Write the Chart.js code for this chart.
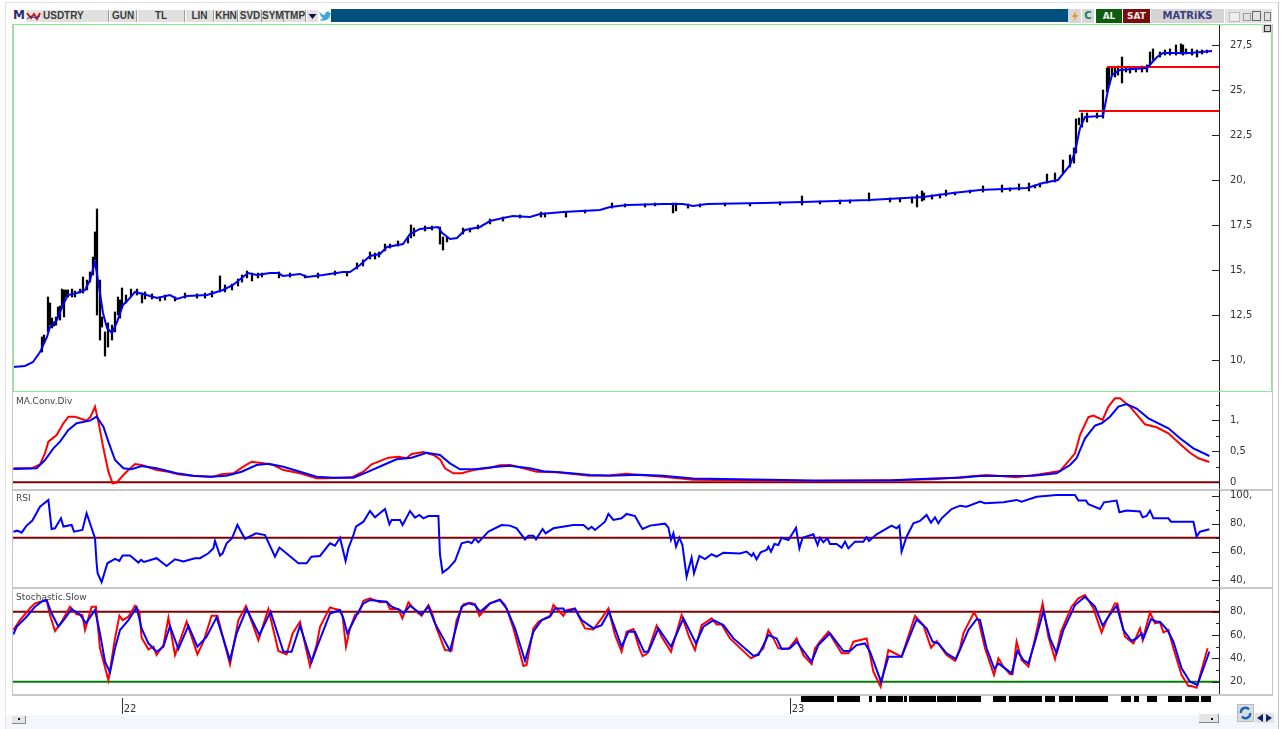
<!DOCTYPE html>
<html>
<head>
<meta charset="utf-8">
<title>USDTRY</title>
<script src="https://cdn.jsdelivr.net/npm/chart.js@4/dist/chart.umd.min.js"></script>
<style>
  html, body { margin: 0; padding: 0; background: #fff; overflow: hidden; }
  #win { position: relative; width: 1283px; height: 729px; background: #fff; font-family: "DejaVu Sans", sans-serif; overflow: hidden; filter: blur(0.35px); }
  #win div, #win canvas, #win svg { position: absolute; }
  .btn { top: 10px; height: 12px; background: #e0e0e0; border-right: 1px solid #999; color: #3a3a3a; font: bold 10px/12px "Liberation Sans Narrow", "Liberation Sans", sans-serif; text-align: center; box-sizing: content-box; }
  .rbtn { top: 9px; height: 14px; font: bold 9px/14px "DejaVu Sans", sans-serif; text-align: center; }
  .name { left: 16px; color: #444; font: 9px/11px "DejaVu Sans", sans-serif; z-index: 5; }
  .sep { left: 12px; width: 1261px; height: 2px; background: #c8c8c8; }
</style>
</head>
<body>
<div id="win">
  <div style="left:5px;top:2px;width:1274px;height:1px;background:#e2e2e2"></div>
  <div style="left:5px;top:2px;width:1px;height:727px;background:#e2e2e2"></div>
  <div style="left:1278px;top:2px;width:1px;height:727px;background:#c4c4c4"></div>
  <div style="left:6px;top:715px;width:1272px;height:14px;background:#f3f6fa"></div>

  <div style="left:11px;top:8px;width:1262px;height:15px;background:#fff"></div>
  <div style="left:331px;top:9px;width:737px;height:13px;background:#00507f"></div>
  <div style="left:13px;top:8px;width:12px;height:14px;color:#2c2c74;font:bold 12px/15px 'DejaVu Sans'">M</div>
  <svg style="left:26px;top:10px" width="15" height="12"><rect width="15" height="12" fill="#e4e4e4"/><path d="M1 3 L5 8 L8 4 L11 9 L14 3" stroke="#d01818" stroke-width="2" fill="none"/><path d="M1 9 L5 6 L9 8 L14 6" stroke="#2c2c9c" fill="none"/></svg>
  <div class="btn" style="left:41px;width:67px;text-align:left;text-indent:2px">USDTRY</div>
  <div class="btn" style="left:110px;width:26px">GUN</div>
  <div class="btn" style="left:138px;width:46px">TL</div>
  <div class="btn" style="left:186px;width:27px">LIN</div>
  <div class="btn" style="left:215px;width:22px">KHN</div>
  <div class="btn" style="left:239px;width:22px">SVD</div>
  <div class="btn" style="left:262px;width:21px">SYM</div>
  <div class="btn" style="left:284px;width:21px">TMP</div>
  <svg style="left:307px;top:10px" width="11" height="12"><rect width="11" height="12" fill="#e0e0e0"/><path d="M1.5 4 L9.5 4 L5.5 9 Z" fill="#12124a"/></svg>
  <svg style="left:318px;top:9px" width="13" height="13"><path d="M1 2 C3 5 5 6 7 6 C7 3 10 1 12 4 L13 4 L12 6 C12 10 7 13 1 11 C3 11 4 10 5 9 C3 8 2 6 1 2 Z" fill="#3fa6dc"/></svg>

  <div style="left:1068px;top:9px;width:13px;height:14px;background:#d8d8d8"></div>
  <svg style="left:1069px;top:9px" width="12" height="14"><path d="M8 1 L3 8 L6 8 L4 13 L9 6 L6 6 Z" fill="#e89018"/></svg>
  <div class="rbtn" style="left:1082px;width:12px;background:#d8d8d8;color:#1a7a6a;font-size:10px">C</div>
  <div class="rbtn" style="left:1096px;width:26px;background:#0e5c0e;color:#e8f0e8">AL</div>
  <div class="rbtn" style="left:1123px;width:27px;background:#7a0c0c;color:#f4e8e8">SAT</div>
  <div class="rbtn" style="left:1151px;width:73px;background:#d4d4d4;color:#3c3c80;font-size:10px">MATRiKS</div>
  <div style="left:1225px;top:9px;width:47px;height:14px;background:#e2e2e2"></div>
  <div style="left:1229px;top:12px;width:9px;height:8px;background:#eee;border:1px solid #bbb"></div>
  <div style="left:1243px;top:13px;width:6px;height:6px;border:1px solid #999"></div>
  <div style="left:1252px;top:11px;width:7px;height:8px;border:1px solid #666"></div>
  <div style="left:1264px;top:12px;width:5px;height:7px;border:1px solid #777"></div>
  <div style="left:1262px;top:24px;width:10px;height:9px;background:#d4d4d4;z-index:6"></div>
  <div style="left:1264px;top:25px;width:5px;height:5px;border:1px solid #333;z-index:6"></div>

  <div style="left:12px;top:24px;width:1px;height:671px;background:#c8c8c8"></div>
  <div style="left:1272px;top:24px;width:1px;height:671px;background:#c8c8c8"></div>
  <div class="sep" style="top:489px"></div>
  <div class="sep" style="top:587px"></div>
  <div class="sep" style="top:694px"></div>

  <canvas id="priceChart" style="left:13px;top:25px"></canvas>
  <canvas id="macdChart" style="left:13px;top:392px"></canvas>
  <canvas id="rsiChart" style="left:13px;top:490px"></canvas>
  <canvas id="stochChart" style="left:13px;top:588px"></canvas>
  <canvas id="dateChart" style="left:13px;top:696px"></canvas>

  <div style="left:13px;top:24px;width:1258px;height:1px;background:#86ee86;z-index:4"></div>
  <div style="left:13px;top:391px;width:1259px;height:1px;background:#86ee86;z-index:4"></div>
  <div style="left:13px;top:24px;width:1px;height:368px;background:#86ee86;z-index:4"></div>
  <div style="left:1271px;top:24px;width:1px;height:368px;background:#86ee86;z-index:4"></div>

  <div class="name" style="top:396px">MA.Conv.Div</div>
  <div class="name" style="top:493px">RSI</div>
  <div class="name" style="top:592px">Stochastic.Slow</div>

  <div style="left:12px;top:716px;width:13px;height:7px;background:#e4e4e4;border-bottom:1px solid #888;border-right:1px solid #888"></div>
  <div style="left:18px;top:718px;width:2px;height:2px;background:#111"></div>
  <div style="left:1199px;top:714px;width:19px;height:8px;background:#e4e4e4;border-bottom:1px solid #888;border-right:1px solid #888"></div>
  <div style="left:1211px;top:718px;width:2px;height:2px;background:#111"></div>
  <div style="left:1237px;top:704px;width:15px;height:16px;background:#d8dde2;border:1px solid #bbb"></div>
  <svg style="left:1239px;top:706px" width="13" height="14"><path d="M2 7 A4.5 4.5 0 0 1 10 3.5" stroke="#1a64b4" stroke-width="2.4" fill="none"/><path d="M11 7 A4.5 4.5 0 0 1 3 10.5" stroke="#1a64b4" stroke-width="2.4" fill="none"/></svg>
  <svg style="left:1255px;top:713px" width="19" height="10"><rect width="19" height="10" fill="#e4e4e4"/><path d="M8 1 L2 5 L8 9 Z" fill="#12226a"/><path d="M11 1 L17 5 L11 9 Z" fill="#12226a"/></svg>
</div>

<script>
// bar numbers run 0..603 across the plot
const xMax = 603;

const yearTicks = [54.5, 388.5];
const yearLabels = ["22", "23"];

const priceTicks = [27.5, 25, 22.5, 20, 17.5, 15, 12.5, 10];
const macdTicks = [1, 0.5, 0];
const macdMinor = [1.25, 0.75, 0.25];
const rsiTicks = [100, 80, 60, 40];
const rsiMinor = [90, 70, 50];
const stochTicks = [80, 60, 40, 20];
const stochMinor = [90, 70, 50, 30];

// blue average over the price bars
const avgBars = [0,6,10,13.5,17,18.5,22,25,27.5,32,36,38.5,41,42.5,45,47,49.5,52,55,57.5,61,65,72,78.5,82,87,97,105,110,115,117.5,122,128.5,132.5,135,143.5,147,155,165,168.5,173.5,178.5,183.5,187,195,198.5,203.5,212.5,214.5,218.5,222,226,233.5,238.5,245,250,258.5,263.5,275,293.5,298.5,307,325,335,340,347,375,395,428,455,470,483.5,507,515,522.5,528.5,531,533.5,536,545,547.5,549.5,553.5,567,572,575,588.5,599.5];
const avgValues = [9.61,9.67,9.89,10.44,11.28,11.83,12.22,13.06,13.61,13.72,13.89,14.44,15.44,14.44,12.61,11.78,11.5,12.11,13.06,13.33,13.78,13.67,13.44,13.61,13.39,13.56,13.61,13.89,14.17,14.61,14.83,14.72,14.83,14.83,14.67,14.78,14.61,14.72,14.89,14.89,15.28,15.78,15.89,16.28,16.44,17.0,17.28,17.39,17.06,16.72,16.78,17.22,17.39,17.72,17.89,18.0,17.94,18.11,18.22,18.33,18.5,18.61,18.67,18.67,18.56,18.67,18.72,18.78,18.89,19.06,19.28,19.44,19.56,19.83,20.0,20.83,21.56,22.89,23.5,23.56,25.0,25.83,26.11,26.22,26.83,27.06,27.06,27.17];

// black high-low bars
const hlBars = [14.5,15.5,17.5,18.5,20.5,22.5,24.5,25.5,27.5,31,35,37,38.5,40,41,42,43.5,44.5,46,47.5,51,52.5,54.5,56.5,59,62,64.5,69.5,73.5,81,92,103.5,106,109.5,114.5,117,119.5,122.5,133,146,167,172,175,178.5,183,186,188.5,197.5,199,200.5,213.5,215,217,225,232.5,245,264,276.5,299.5,330,331.5,337.5,394.5,428,449.5,452,454.5,455.5,463.5,466.5,485,494.5,503,508,517,521,525,528.5,530.5,531.5,533,534.5,537,542,545,547,548,551,554.5,558.5,567,568.5,570,573.5,581.5,584,585,589.5,592,597,
  266,286,306,316,321,343.5,356,368.5,383.5,403.5,413.5,418.5,438.5,443.5,459.5,471,478.5,498.5,511,513.5,26.5,29.5,33.5,66,76,86,96,99.5,112.5,124.5,138.5,152.5,161,181,192.5,206,209.5,228.5,238.5,253.5,549.5,552.5,556.5,561.5,564.5,576,578.5,586.5,594.5,19.5,21.5,23.5,49.5,53.5];
const hlHigh = [11.28,11.39,13.5,13.17,12.11,12.94,13.94,13.89,13.89,13.83,14.61,14.44,14.89,15.72,17.11,18.39,14.44,12.39,11.56,12.06,12.67,13.5,14.0,13.61,13.94,13.94,13.72,13.67,13.5,13.5,13.67,14.67,14.17,14.22,14.72,14.94,14.83,14.83,14.89,14.72,14.89,15.39,15.56,16.0,16.0,16.44,16.44,16.83,17.5,17.33,17.39,16.83,16.83,17.33,17.5,17.94,18.22,18.22,18.72,18.72,18.72,18.67,19.11,19.28,19.06,19.17,19.39,19.28,19.22,19.44,19.67,19.72,19.78,19.83,20.33,20.39,21.11,21.39,21.78,23.39,23.44,23.72,23.72,23.72,25.0,26.22,26.22,26.22,26.83,26.22,26.39,27.11,27.28,27.11,27.5,27.56,27.5,27.28,27.22,27.22,
  18.17,18.33,18.67,18.67,18.72,18.67,18.72,18.72,18.78,18.83,18.89,18.89,19.0,19.0,19.17,19.33,19.44,19.56,19.72,19.83,13.89,13.94,13.94,13.78,13.61,13.72,13.72,13.83,14.5,14.83,14.83,14.83,14.94,15.94,16.61,17.44,17.44,17.33,17.83,18.06,26.28,26.33,26.22,26.28,26.33,27.22,27.28,27.28,27.22,12.33,12.39,13.0,11.94,13.33];
const hlLow = [10.44,10.94,11.56,11.94,11.89,12.39,13.0,12.39,13.5,13.5,13.72,13.89,14.33,14.72,15.56,12.5,11.11,11.83,10.22,10.72,11.56,12.5,12.94,13.17,13.5,13.61,13.17,13.39,13.28,13.28,13.44,13.78,13.78,13.89,14.33,14.56,14.39,14.56,14.56,14.56,14.67,15.06,15.22,15.61,15.72,16.06,16.22,16.5,16.78,16.89,16.44,16.11,16.56,17.0,17.28,17.72,17.94,17.94,18.44,18.17,18.28,18.44,18.61,18.83,18.72,18.5,18.83,18.89,19.0,19.11,19.33,19.33,19.44,19.39,19.83,19.89,20.39,20.72,20.94,21.5,23.06,22.94,23.22,23.44,23.44,24.89,25.28,25.72,25.39,25.94,26.0,26.39,26.67,26.83,26.94,27.0,26.94,26.94,26.83,27.06,
  17.94,18.17,18.5,18.5,18.56,18.5,18.56,18.56,18.61,18.67,18.67,18.72,18.78,18.78,18.94,19.17,19.28,19.39,19.56,19.61,13.5,13.5,13.72,13.39,13.33,13.44,13.44,13.5,14.11,14.61,14.61,14.56,14.72,15.61,16.33,17.17,17.22,17.11,17.56,17.89,25.78,25.83,26.0,26.0,26.0,26.94,26.94,27.0,27.0,11.78,11.94,12.22,11.11,12.33];

// red levels, each running to the right edge
const levelValues = [26.28, 23.83];
const levelStarts = [547, 533];

const macdRedBars = [0.2,9.3,13.5,16,17.7,21.8,25.2,27.7,31,36.8,38.8,41,42.7,45.2,47.7,49.8,51.8,55.2,57.7,61,64.3,71.8,77.7,82.7,90.2,100.2,104.3,110.2,115.2,119.3,125.2,130.2,135.2,143.5,151.8,156.8,169.3,175.2,179.3,187.7,192.7,196.8,199.3,205.2,210.2,213.5,216,220.2,224.3,230.2,238.5,243.5,248.5,255.2,261.8,271.8,288.5,298.5,306.8,313.2,325,340,400,440,460,473.5,486.8,501.8,513.5,523.5,526.8,531,533.5,537.7,540.2,544.8,547.7,551,553.5,558.5,566,571.8,577.7,583.5,588.5,592.7,598.2];
const macdRedValues = [0.226,0.226,0.29,0.468,0.655,0.763,0.952,1.058,1.058,0.994,1.058,1.22,0.978,0.548,0.171,-0.016,-0.006,0.118,0.198,0.295,0.279,0.198,0.171,0.129,0.102,0.09,0.129,0.145,0.252,0.332,0.306,0.279,0.198,0.145,0.064,0.064,0.08,0.171,0.29,0.397,0.413,0.387,0.456,0.489,0.44,0.371,0.226,0.145,0.145,0.198,0.235,0.274,0.279,0.226,0.171,0.161,0.106,0.113,0.139,0.118,0.09,0.04,0.02,0.035,0.05,0.08,0.118,0.08,0.129,0.182,0.306,0.468,0.763,1.05,1.075,1.005,1.22,1.354,1.354,1.22,0.935,0.887,0.79,0.618,0.477,0.387,0.327];

const macdBlueBars = [0.2,11.8,16,20.2,23.5,27.7,31.8,38.5,41.8,45.2,47.7,51,55.2,59.3,64.3,71.8,81.8,90.2,98.5,106.8,114.3,121.8,127.7,135.2,143.5,151.8,160.2,170.2,176.8,185.2,191.8,199.3,206.8,213.5,218.5,223.5,231.8,241.8,248.5,258.5,265.2,273.5,288.5,298.5,313.2,325,340,400,440,460,473.5,483.5,510.2,521.8,528.5,531.8,536,541,544.3,548.5,552.7,556.8,561.8,567.7,577.7,583.5,590.2,598.2];
const macdBlueValues = [0.215,0.226,0.36,0.548,0.655,0.844,0.952,0.994,1.058,0.897,0.655,0.36,0.226,0.21,0.263,0.226,0.145,0.106,0.09,0.106,0.171,0.279,0.3,0.252,0.171,0.09,0.075,0.075,0.161,0.279,0.371,0.397,0.477,0.44,0.306,0.21,0.215,0.252,0.268,0.226,0.177,0.161,0.118,0.106,0.123,0.105,0.06,0.03,0.035,0.06,0.075,0.1,0.106,0.145,0.279,0.387,0.71,0.913,0.952,1.058,1.22,1.263,1.19,1.032,0.871,0.71,0.548,0.424];

const macdLevel = 0;

const rsiBars = [0.2,2.2,4.3,6.8,9.7,13.5,17.7,19.3,21,24,25.2,29.3,30.5,34.7,36.8,41,41.8,42.3,44.3,47.2,51,53.2,54.8,58.5,62.7,64,65.5,71.8,76.8,81,85.2,91,93.5,97.7,100.2,101,103.5,104.8,106.8,109.5,112.2,116,121.5,126,131,133.2,142.7,146.8,149.2,153.5,158.5,161,163.5,166.3,167.7,170.2,171.5,175.2,178.5,181,186,188.2,189.3,193.5,194.8,198.5,201,203.2,205.2,207.7,212.7,213.5,214.8,217.7,221,224.3,227.7,229.3,231,232.7,237.7,244.3,248.5,251.8,256,257.7,260.2,261.5,264.8,266.3,270.2,280.2,285.2,287.7,289.3,291,296,297.7,300.2,304.3,306.8,311,313.5,314.8,318.5,326,327.7,329,330.2,331.5,333.2,334.7,336.8,339.3,340.5,343.2,346,349.3,351.8,355.2,363.5,366.8,369.3,370.2,371.8,373.8,376.8,377.7,379,380.7,382.7,384.3,387.7,391.5,393.2,394.8,400.2,402.3,403.5,405.2,407.2,408.5,411.8,414.3,416,417.7,421,425.2,426.8,428,431.8,439.3,441.8,443.2,444.3,446.8,450.2,453.5,456.8,459,461,462.7,464.3,469.3,473.5,476.8,483.5,486,495.2,501.8,504.3,511.8,521.8,531,532.7,536.5,537.7,543.5,545.5,551.8,553.2,556.8,563.5,564.8,566.8,568.5,570.2,577.7,579,590.2,591.8,593.5,598.2];
const rsiValues = [74.4,75.1,73.7,78.7,82.3,92.2,97,76.3,76.8,83.9,78,79.2,74.4,75.6,87.5,69.7,51.9,44.8,38.4,51.9,55,53.6,57.4,57.4,52.4,54.3,52.8,55.5,50,54.7,53.1,55.5,55.5,59,62.6,67.8,57.4,59,66.1,69.7,79.2,69.2,73.2,72,56.6,63.1,51.9,51.9,56.6,57.1,66.1,64.4,70.1,53.5,62.5,72,78,81.5,89.1,84.6,90.5,79.6,82.7,82.7,79.1,89.1,84.4,86.3,83.9,85.5,85.5,57.8,45.2,48.3,53.5,66.1,67.3,66.1,69.6,66.8,74.4,79.1,78.7,76.8,68.9,71.5,71.5,68.9,76.3,73.2,76.8,79.1,79.1,76.1,77.9,75.6,81.5,87,82.7,83.9,87,85.5,79.1,76.3,78.7,80.1,77.2,68.5,73.2,63.7,70.1,64.9,42.4,55.9,44.7,57.1,54.9,58.3,56.6,59.4,58.9,60.2,57.1,59,54.7,59.7,61.3,63.7,60.2,65.6,64.9,70.1,68.5,77.2,62.5,70.1,72.5,64.9,70.1,66.8,69.6,65.6,65.6,63,67.3,62.5,67.3,67.3,70.4,67.8,72.5,78.7,76.8,78.7,60.2,70.8,80.3,82,86.3,80.8,84.6,80.3,83.9,90.5,92.9,92.2,95.8,94.6,95.3,97,95.8,99.3,100.5,100.5,96.5,96.5,93.9,90.6,95.3,96.5,88.2,89.4,88.7,84.6,85.6,89.4,83.9,83.9,81.5,81.5,70.9,74.4,76.1];
const rsiLevel = 70;

const stochRedBars = [0.2,3.5,8.5,11,16.8,18.5,21,24.3,28.5,31.8,34.7,36,39.3,41.5,43.5,47.7,51,53.2,54.8,57.7,61,63.2,64.3,67.7,70.2,71.8,75.2,77.7,81,86.8,92.2,95.2,99.3,102.2,108.5,112.7,116.5,122.7,127.7,132.7,136.8,139.8,143.5,148.5,151.8,153.5,158.5,160.2,163.5,164.8,166.5,168.5,171,172.7,175.2,178.5,183.5,186.8,188.5,192.7,194.7,197.7,201.8,204.3,207.7,209.3,211.8,216,219.3,221.8,225.2,228.5,231,233.2,238.5,243.5,246,247.7,250.2,255.2,256.8,260.2,262.7,268.5,270.2,275.2,276.8,281,282.7,286,290.2,294.3,297.7,301,304.3,306.8,310.2,313.2,314.8,317.2,321.8,324.3,329,334.3,338.2,341,344.3,349.3,351.8,354.3,358.5,369,371.8,375.2,377.7,380.2,382.7,387.7,391.8,395.2,399.3,401,403.5,407.7,414.3,417.7,420.2,426.8,430.2,433.8,437.7,444.3,451,455.2,459,461.8,466.8,471,473.5,475.2,477.7,480.5,482.7,486,490.5,492.7,495.2,498.5,499.8,501.8,504.3,507.7,511,514.8,517.7,521,524,529.3,532.7,536,540.2,544.3,546.8,551,552.2,556,560.2,563.5,564.8,568.5,571,573.5,575.2,577.7,580.2,584.3,587.7,589.3,591.8,597.3];
const stochRedValues = [64.3,72.8,82.9,87.1,90,77.1,63.4,71.4,84.3,77.7,77.1,64.3,84.3,84.3,48.6,21.4,57.1,76.6,72.8,75.7,85.1,80,57.7,47.7,50,42.9,51.4,74.8,42.9,71.4,43.4,54.3,76.6,76.6,34.9,72.8,84.9,55.7,82.3,46.3,43.4,61.4,71.4,33.4,51.4,67.1,83.7,82.8,81.4,75.7,50,65.7,77.1,78.5,89.4,91.4,88,88.5,82.3,82.3,74.3,88,80,76.5,85.7,80,65.7,47.1,46.6,72.8,86.3,87.7,86.5,76.5,87.1,90.5,85.7,78.5,65.7,33.4,34.3,65.7,71.4,76.3,85.7,76.5,81.4,82.8,76.5,65.7,64.8,74.3,82.8,60,45.7,62.8,65.1,48.6,42,44.3,68,58.6,45.7,77.1,57.7,47.1,68.5,74.3,69.1,69.1,57.1,40,42.8,48.6,64.3,57.1,48.6,48,57.1,42.8,35.1,48.6,54.3,62.8,44.3,44.3,54.3,57.1,28.6,15.7,47.1,41.4,76.3,68.5,49.1,54.8,42.8,38,48.6,61.4,70,79.4,72.8,48.6,25.7,40,32.9,26.3,26.3,54.3,38.6,32.9,57.1,87.1,58.6,39.4,62.9,84.3,91.4,94.3,82.9,62.3,72.8,87.1,87.1,58.6,52.9,65.7,55.7,79.4,70,70.9,62.3,64.3,48.6,25.7,16.3,16.3,14.9,48.6];

const stochBlueBars = [0.2,1.8,6.8,11,14.3,16.8,19.3,22.7,26,29.3,33.5,36.5,41,43.5,46,48.5,51,53.5,57.7,61.8,64.3,67.7,71.8,75.2,78.5,82.7,87.7,92.2,96.8,101.8,108.5,111.8,116.8,123.2,128.8,135.2,139.3,143.5,149.3,152.7,158.5,163.5,165.2,167.2,171.8,175.2,178.5,186.8,189.3,193.5,195.2,198.5,204.3,207.7,211,218.5,221,224.3,227.7,231,233.5,238.5,243.5,246.8,251,256,260.2,264.3,268.5,271,275.2,276,281,284.3,290.2,294.3,298,304.3,307.7,311,315.5,317.7,322.7,329,335.2,341.5,345.2,350.2,355.2,360.2,370.2,372.7,377.7,381.8,384.3,388.5,391.8,399.3,402.7,408.5,415.2,418.5,421.8,426,428.5,434,437.7,444.3,451.8,456.8,459.8,462.7,466.8,471.5,477.7,481.8,483.5,486.8,490.7,492.7,496,499.3,502.2,505.2,507.7,511,515.2,518.5,521.8,525.2,531,536,541,544.8,547.7,551.8,555.2,559.3,561.8,564.3,565.2,569,571.8,573.5,577.2,580.2,584.3,588.5,592.2,598.2];
const stochBlueValues = [60.6,67.1,75.7,84.3,88.6,90,78.6,67.1,74.3,82.3,77.7,70,81.4,61.4,37.1,28,48.6,64.3,72.8,83.7,65.7,52.9,45.7,50,67.7,48,68,50,58.6,75.1,38.6,61.4,82.3,60,80,45.7,45.7,68,37.1,52.9,78.5,81.4,74.3,61.4,77.1,87.1,90,88.5,84.3,81.4,78.5,85.1,77.7,84.3,70,46.6,62.8,84.3,87.1,85.7,80,87.1,90,82.8,65.7,38,62.8,72.8,75.7,82.8,82.8,80,82.3,72.8,65.7,68.5,80,50,62.8,62.8,45.7,45.7,65.7,50,74.3,52.8,67.1,72.8,68.5,57.1,42.3,42.8,60,57.1,48,48.6,54.3,37.1,51.4,61.4,46.3,46.3,51.4,52.8,45.7,20,41.4,41.4,73.4,65.7,54.3,52.8,44.3,39.4,64.3,73.7,72.8,48.6,30.9,35.7,31.4,27.2,46.3,38.6,35.7,54.3,80.6,57.1,44.3,64.3,85.7,92.8,84.3,68,75.7,85.1,64.3,54.9,57.1,61.4,57.1,73.7,71.4,71.4,64.3,54.3,31.4,20,17.2,45.7];
const stochLevels = [80, 20];

// black date marks under the last panel
const blockStarts = [394,412,428,431.5,437.5,445.5,448,462,472,490,498,516,523,531,554,560.5,567,577.5,586,594];
const blockEnds = [410.5,423.5,429.5,436.5,445,447,461.5,471.5,484,496.5,514.5,521,530,547.5,559,563,572,584.5,593,599];

function zip(xs, ys) {
  return xs.map((x, i) => ({ x: x, y: ys[i] }));
}

function lineSet(bars, values, color, order) {
  return {
    type: "line",
    data: zip(bars, values),
    borderColor: color,
    borderWidth: 2,
    pointRadius: 0,
    tension: 0,
    order: order
  };
}

function levelSet(value, start, color) {
  return lineSet([start, xMax], [value, value], color, 5);
}

// comma labels like the terminal prints them: "27,5", "25,", "0"
function commaLabel(v) {
  if (v === 0) return "0";
  return Number.isInteger(v) ? v + "," : String(v).replace(".", ",");
}

// axis ticks point into the plot on this chart, so they are drawn by hand
const inwardTicks = {
  id: "inwardTicks",
  afterDatasetsDraw(chart, args, opts) {
    const y = chart.scales.y;
    const ctx = chart.ctx;
    const right = chart.chartArea.right;
    ctx.save();
    ctx.strokeStyle = "#222";
    ctx.lineWidth = 1;
    opts.major.forEach(v => {
      const p = Math.round(y.getPixelForValue(v)) + 0.5;
      ctx.beginPath(); ctx.moveTo(right - 7, p); ctx.lineTo(right, p); ctx.stroke();
    });
    opts.minor.forEach(v => {
      const p = Math.round(y.getPixelForValue(v)) + 0.5;
      ctx.beginPath(); ctx.moveTo(right - 3, p); ctx.lineTo(right, p); ctx.stroke();
    });
    ctx.restore();
  }
};

function panel(id, height, yMin, yMax, datasets, ticks, minor) {
  const canvas = document.getElementById(id);
  canvas.width = 1258;
  canvas.height = height;
  return new Chart(canvas.getContext("2d"), {
    type: "line",
    data: { datasets: datasets },
    plugins: [inwardTicks],
    options: {
      responsive: false,
      animation: false,
      devicePixelRatio: 1,
      layout: { padding: 0 },
      plugins: {
        legend: { display: false },
        title: { display: false },
        tooltip: { enabled: false },
        inwardTicks: { major: ticks, minor: minor }
      },
      scales: {
        x: { type: "linear", min: 0, max: xMax, display: false, offset: false },
        y: {
          type: "linear",
          position: "right",
          min: yMin,
          max: yMax,
          grid: { display: false },
          border: { display: true, color: "#222", width: 1 },
          afterBuildTicks: s => { s.ticks = ticks.map(v => ({ value: v })); },
          // no half-label margin: the plot has to fill its panel
          afterFit: s => { s.width = 52; s.paddingTop = 0; s.paddingBottom = 0; },
          ticks: {
            autoSkip: false,
            padding: 3,
            color: "#333",
            font: { family: "DejaVu Sans", size: 10 },
            callback: v => commaLabel(v)
          }
        }
      }
    }
  });
}

panel("priceChart", 366, 8.278, 28.61, [
  {
    type: "bar",
    data: zip(hlBars, hlHigh.map((h, i) => [hlLow[i], h])),
    backgroundColor: "#000",
    barThickness: 1.6,
    order: 9
  },
  levelSet(levelValues[0], levelStarts[0], "#ff0000"),
  levelSet(levelValues[1], levelStarts[1], "#ff0000"),
  lineSet(avgBars, avgValues, "#0000ff", 1)
], priceTicks, []);

panel("macdChart", 97, -0.108, 1.456, [
  levelSet(macdLevel, 0, "#800000"),
  lineSet(macdRedBars, macdRedValues, "#ff0000", 2),
  lineSet(macdBlueBars, macdBlueValues, "#0000ff", 1)
], macdTicks, macdMinor);

panel("rsiChart", 97, 35, 104.06, [
  levelSet(rsiLevel, 0, "#800000"),
  lineSet(rsiBars, rsiValues, "#0000ff", 1)
], rsiTicks, rsiMinor);

panel("stochChart", 106, 9.46, 100.3, [
  levelSet(stochLevels[0], 0, "#800000"),
  levelSet(stochLevels[1], 0, "#008000"),
  lineSet(stochRedBars, stochRedValues, "#ff0000", 2),
  lineSet(stochBlueBars, stochBlueValues, "#0000ff", 1)
], stochTicks, stochMinor);

// date strip: year ticks plus the black marks
const blockData = [];
blockStarts.forEach((s, i) => {
  blockData.push({ x: s, y: 0.75 }, { x: blockEnds[i], y: 0.75 }, { x: blockEnds[i], y: null });
});
const dateCanvas = document.getElementById("dateChart");
dateCanvas.width = 1258;
dateCanvas.height = 18;
new Chart(dateCanvas.getContext("2d"), {
  type: "line",
  data: {
    datasets: [{
      data: blockData,
      borderColor: "#000",
      borderWidth: 6,
      pointRadius: 0,
      spanGaps: false,
      clip: false
    }]
  },
  options: {
    responsive: false,
    animation: false,
    devicePixelRatio: 1,
    layout: { padding: { top: 2, right: 52 } },
    plugins: { legend: { display: false }, tooltip: { enabled: false } },
    scales: {
      x: {
        type: "linear",
        min: 0,
        max: xMax,
        offset: false,
        grid: { color: "#333", tickLength: 12 },
        border: { display: false },
        afterBuildTicks: s => { s.ticks = yearTicks.map(v => ({ value: v })); },
        afterFit: s => { s.height = 12; },
        ticks: {
          autoSkip: false,
          maxRotation: 0,
          padding: -11,
          labelOffset: 8,
          color: "#333",
          font: { family: "DejaVu Sans", size: 10 },
          callback: (v, i) => yearLabels[i]
        }
      },
      y: { display: false, min: 0, max: 1 }
    }
  }
});
</script>
</body>
</html>
